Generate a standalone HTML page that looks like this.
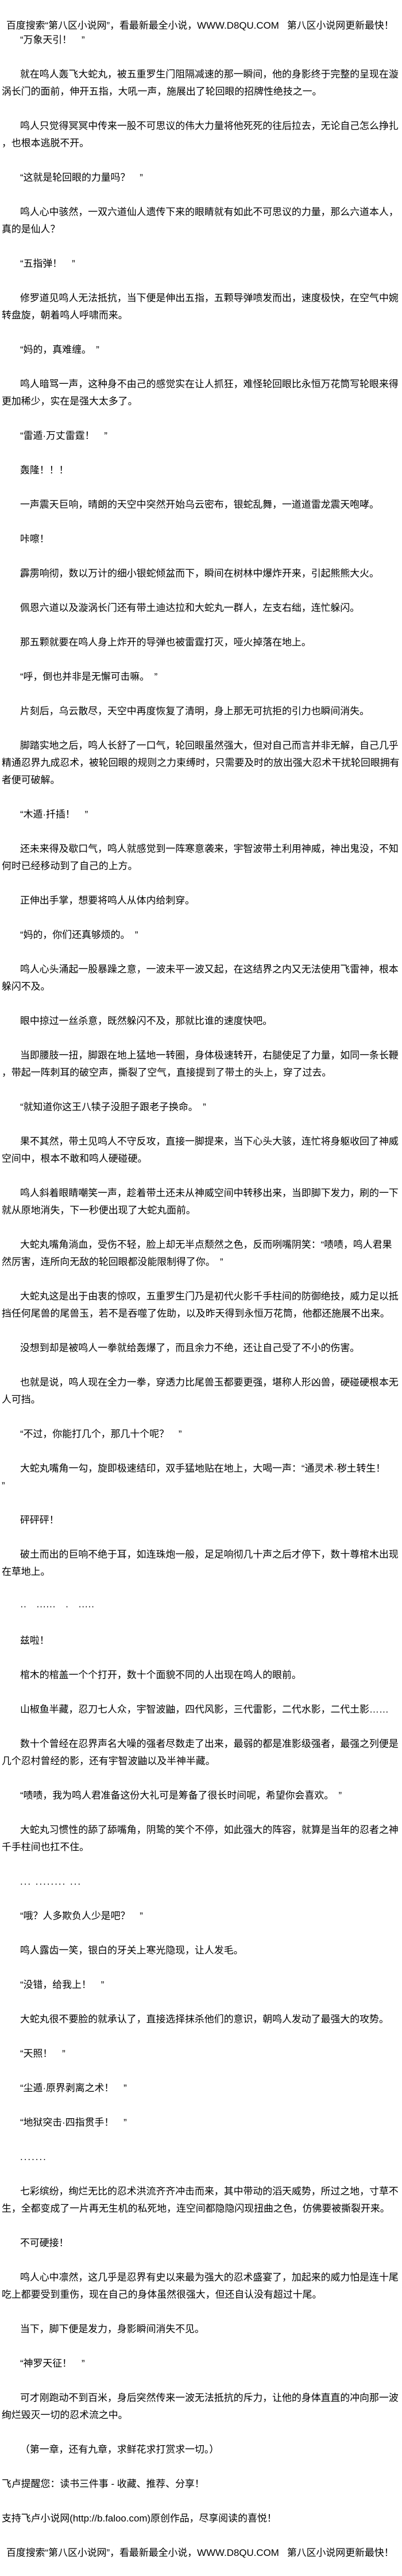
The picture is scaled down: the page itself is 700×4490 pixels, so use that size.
<!DOCTYPE html>
<html><head><meta charset="utf-8">
<style>
html,body{margin:0;padding:0;background:#fff;}
body{width:700px;height:4490px;position:relative;overflow:hidden;
font-family:"Liberation Sans","Noto Sans CJK SC","WenQuanYi Zen Hei",sans-serif;
font-size:16.9px;color:#000;}
div{position:absolute;white-space:nowrap;line-height:30px;height:30px;}
.p{left:35px}.c{left:3px}.h{left:11px}
</style></head><body>
<div class="h" style="top:30px">百度搜索“第八区小说网”，看最新最全小说，WWW.D8QU.COM&nbsp;&nbsp;&nbsp;第八区小说网更新最快！</div>
<div class="p" style="top:55px">“万象天引！　”</div>
<div class="p" style="top:115px">就在鸣人轰飞大蛇丸，被五重罗生门阻隔减速的那一瞬间，他的身影终于完整的呈现在漩</div>
<div class="c" style="top:145px">涡长门的面前，伸开五指，大吼一声，施展出了轮回眼的招牌性绝技之一。</div>
<div class="p" style="top:205px">鸣人只觉得冥冥中传来一股不可思议的伟大力量将他死死的往后拉去，无论自己怎么挣扎</div>
<div class="c" style="top:235px">，也根本逃脱不开。</div>
<div class="p" style="top:295px">“这就是轮回眼的力量吗？　”</div>
<div class="p" style="top:355px">鸣人心中骇然，一双六道仙人遗传下来的眼睛就有如此不可思议的力量，那么六道本人，</div>
<div class="c" style="top:385px">真的是仙人？</div>
<div class="p" style="top:445px">“五指弹！　”</div>
<div class="p" style="top:505px">修罗道见鸣人无法抵抗，当下便是伸出五指，五颗导弹喷发而出，速度极快，在空气中婉</div>
<div class="c" style="top:535px">转盘旋，朝着鸣人呼啸而来。</div>
<div class="p" style="top:595px">“妈的，真难缠。　”</div>
<div class="p" style="top:655px">鸣人暗骂一声，这种身不由己的感觉实在让人抓狂，难怪轮回眼比永恒万花筒写轮眼来得</div>
<div class="c" style="top:685px">更加稀少，实在是强大太多了。</div>
<div class="p" style="top:745px">“雷遁·万丈雷霆！　”</div>
<div class="p" style="top:805px">轰隆！！！</div>
<div class="p" style="top:865px">一声震天巨响，晴朗的天空中突然开始乌云密布，银蛇乱舞，一道道雷龙震天咆哮。</div>
<div class="p" style="top:925px">咔嚓！</div>
<div class="p" style="top:985px">霹雳响彻，数以万计的细小银蛇倾盆而下，瞬间在树林中爆炸开来，引起熊熊大火。</div>
<div class="p" style="top:1045px">佩恩六道以及漩涡长门还有带土迪达拉和大蛇丸一群人，左支右绌，连忙躲闪。</div>
<div class="p" style="top:1105px">那五颗就要在鸣人身上炸开的导弹也被雷霆打灭，哑火掉落在地上。</div>
<div class="p" style="top:1165px">“呼，倒也并非是无懈可击嘛。　”</div>
<div class="p" style="top:1225px">片刻后，乌云散尽，天空中再度恢复了清明，身上那无可抗拒的引力也瞬间消失。</div>
<div class="p" style="top:1285px">脚踏实地之后，鸣人长舒了一口气，轮回眼虽然强大，但对自己而言并非无解，自己几乎</div>
<div class="c" style="top:1315px">精通忍界九成忍术，被轮回眼的规则之力束缚时，只需要及时的放出强大忍术干扰轮回眼拥有</div>
<div class="c" style="top:1345px">者便可破解。</div>
<div class="p" style="top:1405px">“木遁·扦插！　”</div>
<div class="p" style="top:1465px">还未来得及歇口气，鸣人就感觉到一阵寒意袭来，宇智波带土利用神威，神出鬼没，不知</div>
<div class="c" style="top:1495px">何时已经移动到了自己的上方。</div>
<div class="p" style="top:1555px">正伸出手掌，想要将鸣人从体内给刺穿。</div>
<div class="p" style="top:1615px">“妈的，你们还真够烦的。　”</div>
<div class="p" style="top:1675px">鸣人心头涌起一股暴躁之意，一波未平一波又起，在这结界之内又无法使用飞雷神，根本</div>
<div class="c" style="top:1705px">躲闪不及。</div>
<div class="p" style="top:1765px">眼中掠过一丝杀意，既然躲闪不及，那就比谁的速度快吧。</div>
<div class="p" style="top:1825px">当即腰肢一扭，脚跟在地上猛地一转圈，身体极速转开，右腿使足了力量，如同一条长鞭</div>
<div class="c" style="top:1855px">，带起一阵刺耳的破空声，撕裂了空气，直接提到了带土的头上，穿了过去。</div>
<div class="p" style="top:1915px">“就知道你这王八犊子没胆子跟老子换命。　”</div>
<div class="p" style="top:1975px">果不其然，带土见鸣人不守反攻，直接一脚提来，当下心头大骇，连忙将身躯收回了神威</div>
<div class="c" style="top:2005px">空间中，根本不敢和鸣人硬碰硬。</div>
<div class="p" style="top:2065px">鸣人斜着眼睛嘲笑一声，趁着带土还未从神威空间中转移出来，当即脚下发力，刷的一下</div>
<div class="c" style="top:2095px">就从原地消失，下一秒便出现了大蛇丸面前。</div>
<div class="p" style="top:2155px">大蛇丸嘴角淌血，受伤不轻，脸上却无半点颓然之色，反而咧嘴阴笑：“啧啧，鸣人君果</div>
<div class="c" style="top:2185px">然厉害，连所向无敌的轮回眼都没能限制得了你。　”</div>
<div class="p" style="top:2245px">大蛇丸这是出于由衷的惊叹，五重罗生门乃是初代火影千手柱间的防御绝技，威力足以抵</div>
<div class="c" style="top:2275px">挡任何尾兽的尾兽玉，若不是吞噬了佐助，以及昨天得到永恒万花筒，他都还施展不出来。</div>
<div class="p" style="top:2335px">没想到却是被鸣人一拳就给轰爆了，而且余力不绝，还让自己受了不小的伤害。</div>
<div class="p" style="top:2395px">也就是说，鸣人现在全力一拳，穿透力比尾兽玉都要更强，堪称人形凶兽，硬碰硬根本无</div>
<div class="c" style="top:2425px">人可挡。</div>
<div class="p" style="top:2485px">“不过，你能打几个，那几十个呢？　”</div>
<div class="p" style="top:2545px">大蛇丸嘴角一勾，旋即极速结印，双手猛地贴在地上，大喝一声：“通灵术·秽土转生！</div>
<div class="c" style="top:2575px">”</div>
<div class="p" style="top:2635px">砰砰砰！</div>
<div class="p" style="top:2695px">破土而出的巨响不绝于耳，如连珠炮一般，足足响彻几十声之后才停下，数十尊棺木出现</div>
<div class="c" style="top:2725px">在草地上。</div>
<div class="p" style="top:2785px">··　······　·　·····</div>
<div class="p" style="top:2845px">兹啦！</div>
<div class="p" style="top:2905px">棺木的棺盖一个个打开，数十个面貌不同的人出现在鸣人的眼前。</div>
<div class="p" style="top:2965px">山椒鱼半藏，忍刀七人众，宇智波鼬，四代风影，三代雷影，二代水影，二代土影……</div>
<div class="p" style="top:3025px">数十个曾经在忍界声名大噪的强者尽数走了出来，最弱的都是准影级强者，最强之列便是</div>
<div class="c" style="top:3055px">几个忍村曾经的影，还有宇智波鼬以及半神半藏。</div>
<div class="p" style="top:3115px">“啧啧，我为鸣人君准备这份大礼可是筹备了很长时间呢，希望你会喜欢。　”</div>
<div class="p" style="top:3175px">大蛇丸习惯性的舔了舔嘴角，阴鸷的笑个不停，如此强大的阵容，就算是当年的忍者之神</div>
<div class="c" style="top:3205px">千手柱间也扛不住。</div>
<div class="p" style="top:3265px;letter-spacing:2px">...&nbsp;........&nbsp;...</div>
<div class="p" style="top:3325px">“哦？人多欺负人少是吧？　”</div>
<div class="p" style="top:3385px">鸣人露齿一笑，银白的牙关上寒光隐现，让人发毛。</div>
<div class="p" style="top:3445px">“没错，给我上！　”</div>
<div class="p" style="top:3505px">大蛇丸很不要脸的就承认了，直接选择抹杀他们的意识，朝鸣人发动了最强大的攻势。</div>
<div class="p" style="top:3565px">“天照！　”</div>
<div class="p" style="top:3625px">“尘遁·原界剥离之术！　”</div>
<div class="p" style="top:3685px">“地狱突击·四指贯手！　”</div>
<div class="p" style="top:3745px;letter-spacing:2px">.......</div>
<div class="p" style="top:3805px">七彩缤纷，绚烂无比的忍术洪流齐齐冲击而来，其中带动的滔天威势，所过之地，寸草不</div>
<div class="c" style="top:3835px">生，全都变成了一片再无生机的私死地，连空间都隐隐闪现扭曲之色，仿佛要被撕裂开来。</div>
<div class="p" style="top:3895px">不可硬接！</div>
<div class="p" style="top:3955px">鸣人心中凛然，这几乎是忍界有史以来最为强大的忍术盛宴了，加起来的威力怕是连十尾</div>
<div class="c" style="top:3985px">吃上都要受到重伤，现在自己的身体虽然很强大，但还自认没有超过十尾。</div>
<div class="p" style="top:4045px">当下，脚下便是发力，身影瞬间消失不见。</div>
<div class="p" style="top:4105px">“神罗天征！　”</div>
<div class="p" style="top:4165px">可才刚跑动不到百米，身后突然传来一波无法抵抗的斥力，让他的身体直直的冲向那一波</div>
<div class="c" style="top:4195px">绚烂毁灭一切的忍术流之中。</div>
<div class="p" style="top:4255px">（第一章，还有九章，求鲜花求打赏求一切。）</div>
<div class="c" style="top:4315px">飞卢提醒您：读书三件事 - 收藏、推荐、分享！</div>
<div class="c" style="top:4375px">支持飞卢小说网(http://b.faloo.com)原创作品，尽享阅读的喜悦！</div>
<div class="h" style="top:4435px">百度搜索“第八区小说网”，看最新最全小说，WWW.D8QU.COM&nbsp;&nbsp;&nbsp;第八区小说网更新最快！</div>
</body></html>
